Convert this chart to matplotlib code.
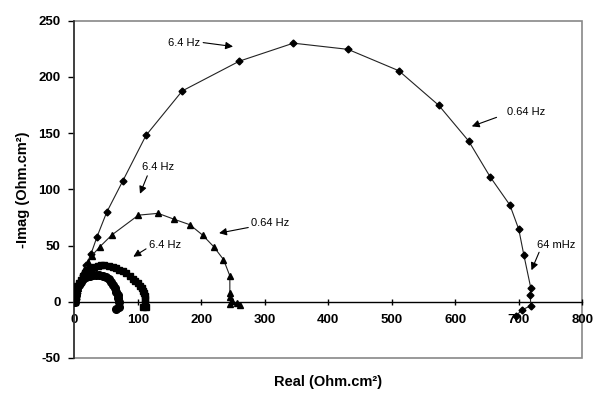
import matplotlib
matplotlib.use("Agg")
import matplotlib.pyplot as plt
from matplotlib.patches import Rectangle

plt.rcParams['font.family'] = ['Liberation Sans', 'DejaVu Sans']
plt.rcParams['axes.unicode_minus'] = False

# ---- data ----
diam_x = [2, 5, 9, 14, 19, 26, 36, 51, 76, 113, 170, 260, 345, 431, 511, 574, 621, 655, 686, 700, 708, 719, 718, 719, 704.5, 695.6]
diam_y = [2, 8, 15, 24, 33, 42, 58, 79.5, 107, 148, 187.5, 214, 230, 224.5, 205.5, 174.7, 143, 111, 86, 64.4, 41.5, 12, 6, -3.5, -7.5, -12.7]

tri_x = [1, 3, 6, 10, 16, 22, 27.3, 40.5, 59, 101, 132, 157.5, 182, 202, 219.5, 235, 245, 245, 246, 249, 246, 256, 261]
tri_y = [1, 6, 12, 20, 28, 35, 40.7, 49, 59.3, 77, 78.6, 73.3, 68.5, 59.3, 49, 37.5, 23, 7.5, 4, 1, -2, -1, -3]

sq_x = [1.6, 2, 3, 4.5, 7, 10.5, 14, 17.3, 22, 26.3, 31, 36.8, 42, 47.2, 54, 60.5, 66, 71, 76, 81.4, 87, 92, 96, 100, 104, 106.6, 109, 110.3, 111, 111.5, 111.8, 113, 108.8]
sq_y = [0, 4, 8, 14, 17, 19.3, 23, 25.3, 28, 29.7, 31, 32, 32.5, 32.7, 32, 31.2, 30, 28.2, 27, 25.3, 22.5, 20, 18, 16.4, 14, 12, 9.5, 7.5, 5, 2.8, -1.4, -5, -5]

circ_x = [0.5, 1, 2, 3, 5, 7, 10, 14, 19, 24, 29, 34, 39.4, 45, 50, 54, 57.8, 61, 64.6, 66.5, 68.3, 69.5, 70, 70.9, 65.7]
circ_y = [0, 3, 6, 9, 12, 15, 17.5, 20, 22, 23, 23.5, 24, 23.8, 23.2, 22.2, 20, 17.8, 15, 12, 9, 6, 3, 0, -5, -6.5]

xticks = [0, 100, 200, 300, 400, 500, 600, 700, 800]
yticks = [-50, 0, 50, 100, 150, 200, 250]

fig = plt.figure(figsize=(5.98, 3.94), dpi=100)
ax = fig.add_axes([0.1242, 0.0916, 0.9737 - 0.1242, 0.9475 - 0.0916])

ax.plot(diam_x, diam_y, color='#222222', lw=0.8, marker='D', ms=3.5, mfc='black', mec='black', zorder=3)
ax.plot(tri_x, tri_y, color='#222222', lw=0.8, marker='^', ms=4.5, mfc='black', mec='black', zorder=3)
ax.plot(sq_x, sq_y, color='black', lw=0.8, marker='s', ms=5, mfc='black', mec='black', zorder=3)
ax.plot(circ_x, circ_y, color='#b000b0', lw=0.6, marker='o', ms=5.5, mfc='black', mec='black', zorder=3)

ax.set_xlim(0, 800)
ax.set_ylim(-50, 250)
ax.set_xticks(xticks)
ax.set_yticks(yticks)

for s in ['top', 'right']:
    ax.spines[s].set_visible(False)
ax.spines['bottom'].set_position(('data', 0))
ax.spines['bottom'].set_color('black')
ax.spines['bottom'].set_linewidth(1.0)
ax.spines['left'].set_color('#333333')
ax.spines['left'].set_linewidth(1.2)
ax.add_patch(Rectangle((0, 0), 1, 1, transform=ax.transAxes, fill=False,
                       edgecolor='#888888', lw=1.2, zorder=0, clip_on=False))

ax.tick_params(axis='x', direction='inout', length=5, width=1, pad=6)
ax.tick_params(axis='y', direction='out', length=4, width=1, pad=6)
for lab in ax.get_xticklabels() + ax.get_yticklabels():
    lab.set_fontweight('bold')
    lab.set_fontsize(9.5)

ax.set_xlabel('Real (Ohm.cm²)', fontsize=10.5, fontweight='bold')
ax.xaxis.set_label_coords(0.5, -0.05)
ax.set_ylabel('-Imag (Ohm.cm²)', fontsize=10.5, fontweight='bold', labelpad=6)

arrow = dict(arrowstyle='-|>', color='black', lw=0.8, mutation_scale=11, shrinkA=0, shrinkB=0)
fs = 8
ax.annotate('', xy=(250, 227), xytext=(203, 230.5), arrowprops=arrow)
ax.text(147, 230.5, '6.4 Hz', fontsize=fs, va='center', ha='left')

ax.annotate('', xy=(626, 156), xytext=(665, 164), arrowprops=arrow)
ax.text(681, 169, '0.64 Hz', fontsize=fs, va='center', ha='left')

ax.annotate('', xy=(720, 28), xytext=(732, 44), arrowprops=arrow)
ax.text(729, 50.5, '64 mHz', fontsize=fs, va='center', ha='left')

ax.annotate('', xy=(103.5, 96), xytext=(115, 112), arrowprops=arrow)
ax.text(106, 120, '6.4 Hz', fontsize=fs, va='center', ha='left')

ax.annotate('', xy=(228, 61), xytext=(274, 66), arrowprops=arrow)
ax.text(279, 70, '0.64 Hz', fontsize=fs, va='center', ha='left')

ax.annotate('', xy=(93, 40), xytext=(113, 47), arrowprops=arrow)
ax.text(118, 50.5, '6.4 Hz', fontsize=fs, va='center', ha='left')

fig.savefig('out.png', dpi=100)
